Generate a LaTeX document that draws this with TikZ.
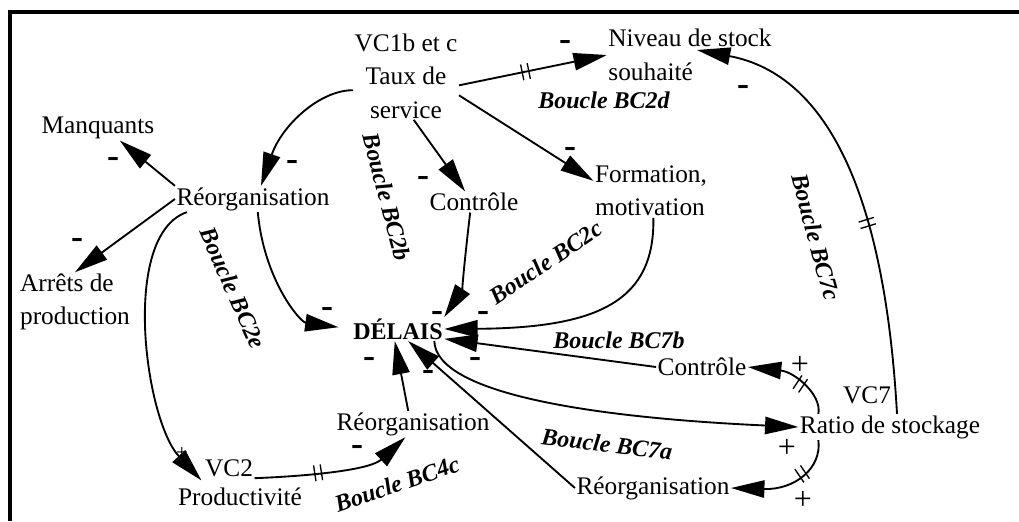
\documentclass[tikz,border=0pt]{standalone}
\usepackage{fontspec}
\setmainfont{Liberation Serif}
\usetikzlibrary{arrows.meta,decorations.markings}

\tikzset{
  varbox/.style={inner sep=1pt, font=\fontsize{19}{25}\selectfont},
  boucle/.style={inner sep=0pt, font=\fontsize{18}{20}\selectfont\bfseries\itshape},
  signe/.style={inner sep=0pt, font=\fontsize{27}{27}\selectfont\bfseries},
  signeplus/.style={inner sep=0pt, font=\fontsize{24}{24}\selectfont},
  fleche/.style={line width=1.4pt, -{Triangle[length=25pt,width=13pt]}},
  retard/.style={postaction={decorate}, decoration={markings,
      mark=at position #1 with {\draw[arrows=-, line width=1pt] (-2.5pt,-6pt) -- (-2.5pt,6pt) (2.5pt,-6pt) -- (2.5pt,6pt);}}}
}

\begin{document}
\begin{tikzpicture}[x=0.75pt,y=-0.75pt]
        \useasboundingbox (0,0) rectangle (1019,521);

        % Frame
        \draw[line width=3pt] (10,521) -- (10,12) -- (1019,12);

        % Variables
        \node[varbox, align=center] (taux) at (406,76) {VC1b et c\\Taux de\\service};
        \node[varbox, align=left] (niveau) at (690,55) {Niveau de stock\\souhaité};
        \node[varbox] (manq) at (98,128) {Manquants};
        \node[varbox] (reoA) at (253,199) {Réorganisation};
        \node[varbox, align=left] (arrets) at (75,302) {Arrêts de\\production};
        \node[varbox] (ctrlA) at (474,202) {Contrôle};
        \node[varbox, align=left] (form) at (651,191) {Formation,\\motivation};
        \node[varbox, font=\fontsize{18}{20}\selectfont\bfseries] (delais) at (398,329) {DÉLAIS};
        \node[varbox] (ctrlB) at (702,367) {Contrôle};
        \node[varbox] (vcsept) at (867,395) {VC7};
        \node[varbox] (ratio) at (890,427) {Ratio de stockage};
        \node[varbox] (reoB) at (413,424) {Réorganisation};
        \node[varbox] (reoC) at (653,488) {Réorganisation};
        \node[varbox] (vcdeux) at (229,468) {VC2};
        \node[varbox] (prod) at (240,497) {Productivité};

        % Loops
        \node[boucle, rotate=-75] (lbB) at (387,197) {Boucle BC2b};
        \node[boucle, rotate=34] (lbC) at (546,262) {Boucle BC2c};
        \node[boucle] (lbD) at (604,100) {Boucle BC2d};
        \node[boucle, rotate=-66] (lbE) at (233,288) {Boucle BC2e};
        \node[boucle, rotate=-7] (lbSeptA) at (607,444) {Boucle BC7a};
        \node[boucle] (lbSeptB) at (619,340) {Boucle BC7b};
        \node[boucle, rotate=-75] (lbSeptC) at (816,237) {Boucle BC7c};
        \node[boucle, rotate=19] (lbQuatre) at (397,484) {Boucle BC4c};

        % Draw links from service
        \draw[fleche, retard=0.45] (taux.-10) -- (niveau.west);
        \draw[fleche] (taux.195) .. controls (320,90) and (282,125) .. ([shift={(8,0)}]reoA.north);
        \draw[fleche] (taux.-80) -- (ctrlA.130);
        \draw[fleche] (taux.-20) -- (form.170);

        % Draw links from reorganisation
        \draw[fleche] (reoA.north west) -- (manq.-30);
        \draw[fleche] (reoA.west) -- (arrets.north);
        \draw[fleche, shorten >=10pt] (reoA.-70) .. controls (264,280) and (300,322) .. (delais.west);
        \draw[fleche] ([shift={(12,0)}]reoA.south west) .. controls (120,235) and (145,420) .. ([shift={(25,-6)}]prod.north west);

        % Draw links towards delais
        \draw[fleche] (ctrlA.-110) .. controls (464,265) and (462,290) .. (delais.north east);
        \draw[fleche] (form.-85) .. controls (655,300) and (600,328) .. (delais.east);
        \draw[fleche] (ctrlB.west) -- (delais.-12);
        \draw[fleche] (reoC.west) -- (delais.-50);
        \draw[fleche] (reoB.110) -- (delais.-105);
        \draw[fleche] ([shift={(-10,0)}]delais.south east) .. controls (436,395) and (600,418) .. (ratio.west);
        \draw[fleche, retard=0.4] (vcdeux.south east) .. controls (310,476) and (370,470) .. (reoB.-120);

        % Draw links from ratio
        \draw[fleche, retard=0.4] ([shift={(20,0)}]ratio.north west) .. controls (822,395) and (795,372) .. (ctrlB.east);
        \draw[fleche, retard=0.35] ([shift={(20,0)}]ratio.south west) .. controls (822,468) and (795,490) .. (reoC.east);
        \draw[fleche, retard=0.43] ([shift={(7,0)}]ratio.north) .. controls (885,200) and (830,75) .. ([shift={(7,-5)}]niveau.center);

        % Signs
        \node[signe] (m1) at (565,45) {-};
        \node[signe] (m2) at (743,90) {-};
        \node[signe] (m3) at (113,162) {-};
        \node[signe] (m4) at (292,165) {-};
        \node[signe] (m5) at (77,243) {-};
        \node[signe] (m6) at (423,181) {-};
        \node[signe] (m7) at (570,152) {-};
        \node[signe] (m8) at (327,312) {-};
        \node[signe] (m9) at (437,316) {-};
        \node[signe] (m10) at (483,316) {-};
        \node[signe] (m11) at (369,362) {-};
        \node[signe] (m12) at (475,362) {-};
        \node[signe] (m13) at (428,375) {-};
        \node[signe] (m14) at (357,450) {-};
        \node[signeplus] (p1) at (800,365) {+};
        \node[signeplus] (p2) at (787,448) {+};
        \node[signeplus] (p3) at (803,500) {+};
        \node[signeplus, font=\fontsize{16}{16}\selectfont] (p4) at (182,453) {+};
\end{tikzpicture}
\end{document}
